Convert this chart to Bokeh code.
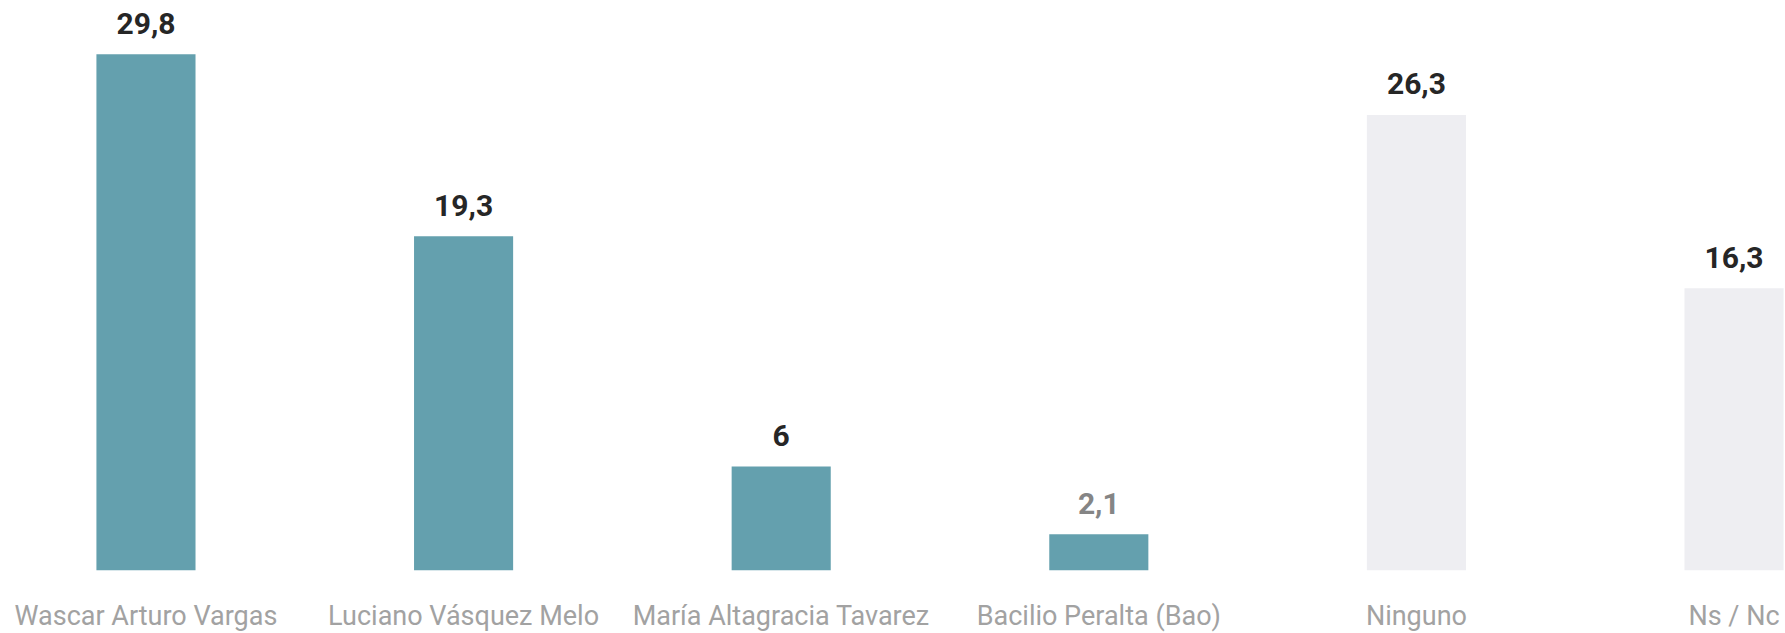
from bokeh.plotting import figure
from bokeh.models import ColumnDataSource, Range1d, FixedTicker
from bokeh.core.properties import value
from bokeh.embed import file_html
from bokeh.resources import INLINE

categories = ["Wascar Arturo Vargas", "Luciano Vásquez Melo", "María Altagracia Tavarez",
              "Bacilio Peralta (Bao)", "Ninguno", "Ns / Nc"]
values = [29.8, 19.3, 6, 2.1, 26.3, 16.3]

TEAL = "#64a0ae"
LIGHT = "#eeeef2"
bar_colors = [TEAL, TEAL, TEAL, TEAL, LIGHT, LIGHT]
label_colors = ["#262626", "#262626", "#262626", "#858585", "#262626", "#262626"]

xs = list(range(len(categories)))
labels = [f"{v:g}".replace(".", ",") for v in values]

src = ColumnDataSource(dict(x=xs, top=values, color=bar_colors, label=labels, lcolor=label_colors))

p = figure(frame_width=1785, frame_height=570, min_border=0,
           x_range=Range1d(-0.458, 5.162), y_range=Range1d(0, 32.91),
           y_axis_location=None, toolbar_location=None, output_backend="svg",
           background_fill_color="white", border_fill_color="white")
p.outline_line_color = None
p.grid.visible = False

p.vbar(x="x", top="top", bottom=0, width=0.312, fill_color="color", line_color=None, source=src)
p.text(x="x", y="top", text="label", text_color="lcolor", source=src,
       text_align="center", text_baseline="alphabetic", y_offset=-31,
       text_font=value("Roboto"), text_font_style="bold", text_font_size="30px")

ax = p.xaxis[0]
ax.ticker = FixedTicker(ticks=xs)
ax.major_label_overrides = {i: c for i, c in enumerate(categories)}
ax.axis_line_color = None
ax.major_tick_line_color = None
ax.minor_tick_line_color = None
ax.major_label_standoff = 23
ax.major_label_text_font = "Roboto"
ax.major_label_text_font_size = "27px"
ax.major_label_text_color = "#a2a2a2"

open("out.html", "w").write(file_html(p, INLINE))
